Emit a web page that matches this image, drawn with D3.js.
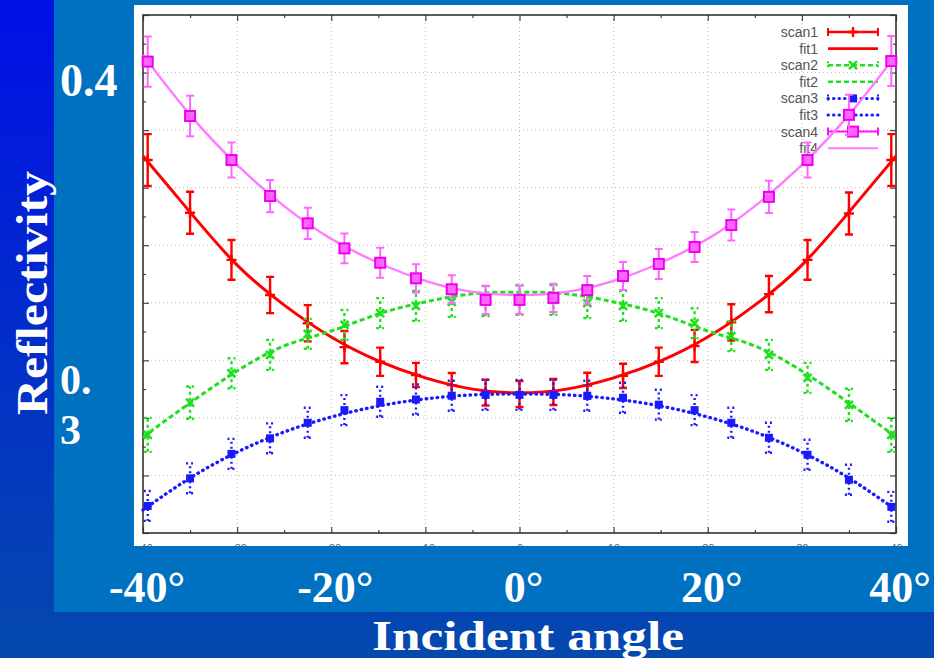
<!DOCTYPE html>
<meta charset="utf-8">
<html>
<head>
<style>
  body { margin: 0; background: #0030c8; }
  svg { display: block; }
</style>
</head>
<body>
<div id="chart"></div>
<script src="https://d3js.org/d3.v7.min.js"></script>
<script>

// measured angles of the scans (degrees)
var angles = [-39.5, -35, -30.6, -26.5, -22.5, -18.6, -14.8, -11, -7.2, -3.6, 0,
              3.6, 7.2, 11, 14.8, 18.6, 22.5, 26.5, 30.6, 35, 39.5];

// scan values and error half-widths
var scan1 = [0.3696, 0.3513, 0.3349, 0.3227, 0.3129, 0.3046, 0.2995, 0.2949, 0.2914, 0.2888, 0.2883,
             0.2890, 0.2912, 0.2946, 0.2995, 0.3050, 0.3132, 0.3230, 0.3349, 0.3510, 0.3696];
var err1  = [0.0090, 0.0073, 0.0069, 0.0063, 0.0063, 0.0056, 0.0049, 0.0042, 0.0042, 0.0045, 0.0045,
             0.0045, 0.0045, 0.0042, 0.0049, 0.0056, 0.0063, 0.0063, 0.0069, 0.0073, 0.0090];
var scan2 = [0.2741, 0.2853, 0.2955, 0.3019, 0.3092, 0.3123, 0.3164, 0.3189, 0.3203, 0.3206, 0.3210,
             0.3210, 0.3199, 0.3189, 0.3164, 0.3129, 0.3084, 0.3019, 0.2939, 0.2845, 0.2741];
var err2  = [0.0059, 0.0056, 0.0052, 0.0052, 0.0052, 0.0052, 0.0052, 0.0052, 0.0052, 0.0052, 0.0052,
             0.0052, 0.0052, 0.0052, 0.0052, 0.0052, 0.0052, 0.0052, 0.0052, 0.0056, 0.0059];
var scan3 = [0.2494, 0.2590, 0.2675, 0.2729, 0.2783, 0.2827, 0.2856, 0.2864, 0.2877, 0.2880, 0.2880,
             0.2880, 0.2877, 0.2870, 0.2846, 0.2827, 0.2783, 0.2731, 0.2672, 0.2585, 0.2491];
var err3  = [0.0052, 0.0052, 0.0052, 0.0052, 0.0052, 0.0052, 0.0052, 0.0052, 0.0052, 0.0052, 0.0052,
             0.0052, 0.0052, 0.0052, 0.0052, 0.0052, 0.0052, 0.0052, 0.0052, 0.0052, 0.0052];
var scan4 = [0.4038, 0.3849, 0.3696, 0.3571, 0.3476, 0.3389, 0.3339, 0.3285, 0.3247, 0.3210, 0.3210,
             0.3217, 0.3244, 0.3293, 0.3335, 0.3394, 0.3470, 0.3568, 0.3696, 0.3853, 0.4040];
var err4  = [0.0087, 0.0070, 0.0061, 0.0056, 0.0054, 0.0052, 0.0052, 0.0049, 0.0049, 0.0049, 0.0049,
             0.0049, 0.0049, 0.0049, 0.0052, 0.0052, 0.0054, 0.0056, 0.0061, 0.0070, 0.0087];

// fitted curves sampled every 5 degrees
var fitAngles = [-40, -35, -30, -25, -20, -15, -10, -5, 0, 5, 10, 15, 20, 25, 30, 35, 40];
var fit1 = [0.3710, 0.3515, 0.3331, 0.3192, 0.3081, 0.2998, 0.2939, 0.2900, 0.2887,
            0.2900, 0.2939, 0.2998, 0.3081, 0.3192, 0.3331, 0.3515, 0.3710];
var fit2 = [0.2734, 0.2852, 0.2963, 0.3050, 0.3102, 0.3161, 0.3203, 0.3231, 0.3237,
            0.3231, 0.3203, 0.3161, 0.3102, 0.3050, 0.2963, 0.2852, 0.2734];
var fit3 = [0.2480, 0.2591, 0.2681, 0.2751, 0.2803, 0.2841, 0.2866, 0.2880, 0.2883,
            0.2880, 0.2866, 0.2841, 0.2803, 0.2751, 0.2681, 0.2591, 0.2480];
var fit4 = [0.4061, 0.3853, 0.3679, 0.3536, 0.3422, 0.3339, 0.3276, 0.3238, 0.3227,
            0.3238, 0.3276, 0.3339, 0.3422, 0.3536, 0.3679, 0.3853, 0.4061];

var legendNames = ["scan1", "fit1", "scan2", "fit2", "scan3", "fit3", "scan4", "fit4"];
var slideXLabels = [-40, -20, 0, 20, 40];

var W = 934, H = 658;

var svg = d3.select("#chart").append("svg")
    .attr("width", W).attr("height", H);

// slide background
var defs = svg.append("defs");
var grad = defs.append("linearGradient").attr("id", "bg")
    .attr("x1", 0).attr("y1", 0).attr("x2", 0).attr("y2", 1);
grad.append("stop").attr("offset", "0%").attr("stop-color", "#0010e6");
grad.append("stop").attr("offset", "100%").attr("stop-color", "#0549ae");
svg.append("rect").attr("width", W).attr("height", H).attr("fill", "url(#bg)");
svg.append("rect").attr("x", 54).attr("y", 0).attr("width", W - 54).attr("height", 612)
    .attr("fill", "#0070c0");

// white picture of the gnuplot output
svg.append("rect").attr("x", 134).attr("y", 5).attr("width", 774).attr("height", 541)
    .attr("fill", "white");
defs.append("clipPath").attr("id", "pic")
  .append("rect").attr("x", 134).attr("y", 5).attr("width", 774).attr("height", 541);

var x = d3.scaleLinear().domain([-40, 40]).range([143, 896]);
var y = d3.scaleLinear().domain([0.24, 0.42]).range([533, 15]);

var plot = svg.append("g").attr("clip-path", "url(#pic)");

// grid
plot.append("g").selectAll("line").data(d3.range(-30, 31, 10)).enter().append("line")
    .attr("x1", function(d) { return x(d); }).attr("x2", function(d) { return x(d); })
    .attr("y1", y(0.42)).attr("y2", y(0.24))
    .attr("stroke", "#bbb").attr("stroke-width", 1).attr("stroke-dasharray", "1,3");
plot.append("g").selectAll("line").data(d3.range(0.26, 0.41, 0.02)).enter().append("line")
    .attr("y1", function(d) { return y(d); }).attr("y2", function(d) { return y(d); })
    .attr("x1", x(-40)).attr("x2", x(40))
    .attr("stroke", "#bbb").attr("stroke-width", 1).attr("stroke-dasharray", "1,3");

// inward ticks, mirrored on all four sides
function ticks(axis, tr, size) {
  var g = plot.append("g").attr("transform", tr).call(axis.tickSize(size).tickFormat(""));
  g.select(".domain").remove();
  g.selectAll("line").attr("stroke", "#444").attr("stroke-width", 1.2);
}
ticks(d3.axisBottom(x).tickValues(d3.range(-40, 41, 10)), "translate(0," + y(0.24) + ")", -6);
ticks(d3.axisBottom(x).tickValues(d3.range(-35, 36, 10)), "translate(0," + y(0.24) + ")", -3);
ticks(d3.axisTop(x).tickValues(d3.range(-40, 41, 10)), "translate(0," + y(0.42) + ")", -6);
ticks(d3.axisTop(x).tickValues(d3.range(-35, 36, 10)), "translate(0," + y(0.42) + ")", -3);
ticks(d3.axisLeft(y).tickValues(d3.range(0.24, 0.421, 0.02)), "translate(" + x(-40) + ",0)", -6);
ticks(d3.axisLeft(y).tickValues(d3.range(0.25, 0.42, 0.02)), "translate(" + x(-40) + ",0)", -3);
ticks(d3.axisRight(y).tickValues(d3.range(0.24, 0.421, 0.02)), "translate(" + x(40) + ",0)", -6);
ticks(d3.axisRight(y).tickValues(d3.range(0.25, 0.42, 0.02)), "translate(" + x(40) + ",0)", -3);

// gnuplot tick labels, cut by the edge of the picture
var lab = plot.append("g").attr("transform", "translate(0," + y(0.24) + ")")
    .call(d3.axisBottom(x).tickValues(d3.range(-40, 41, 10)).tickSize(0).tickPadding(11));
lab.select(".domain").remove();
lab.selectAll("text").attr("fill", "#666").attr("font-size", 11)
    .attr("font-family", "Liberation Sans, Arial, sans-serif");

// frame
plot.append("rect").attr("x", x(-40)).attr("y", y(0.42))
    .attr("width", x(40) - x(-40)).attr("height", y(0.24) - y(0.42))
    .attr("fill", "none").attr("stroke", "#333").attr("stroke-width", 1.6);

var series = [
  { vals: scan1, err: err1, fit: fit1, color: "#ff0000", fitColor: "#ff0000", dash: null, cap: "butt", mark: "plus", w: 2.6 },
  { vals: scan2, err: err2, fit: fit2, color: "#1ee01e", fitColor: "#1ee01e", dash: "5,3", cap: "butt", mark: "cross", w: 2.6 },
  { vals: scan3, err: err3, fit: fit3, color: "#1a1aff", fitColor: "#1a1aff", dash: "0.5,5", cap: "round", mark: "box", w: 3 },
  { vals: scan4, err: err4, fit: fit4, color: "#ff10ff", fitColor: "#ff7cff", dash: null, cap: "butt", mark: "square", w: 2 }
];

function marker(g, kind, cx, cy, color) {
  if (kind === "plus") {
    g.append("path").attr("d", "M" + (cx - 5) + "," + cy + "h10M" + cx + "," + (cy - 5) + "v10")
      .attr("stroke", color).attr("stroke-width", 2.4);
  } else if (kind === "cross") {
    g.append("path").attr("d", "M" + (cx - 4) + "," + (cy - 4) + "l8,8M" + (cx - 4) + "," + (cy + 4) + "l8,-8")
      .attr("stroke", color).attr("stroke-width", 2.6);
  } else if (kind === "box") {
    g.append("rect").attr("x", cx - 4).attr("y", cy - 4).attr("width", 8).attr("height", 8)
      .attr("fill", color);
  } else {
    g.append("rect").attr("x", cx - 5).attr("y", cy - 5).attr("width", 10).attr("height", 10)
      .attr("fill", "#ff66ff").attr("stroke", "#ee00ee").attr("stroke-width", 2);
  }
}

// legend (drawn first, the curves go over it)
var leg = plot.append("g");
legendNames.forEach(function(name, i) {
  var s = series[Math.floor(i / 2)];
  var ly = 32 + i * 16.6;
  leg.append("text").attr("x", 818).attr("y", ly + 5).attr("text-anchor", "end")
    .attr("font-family", "Liberation Sans, Arial, sans-serif").attr("font-size", 14)
    .attr("fill", "#555").text(name);
  var col = (i % 2 === 0) ? s.color : s.fitColor;
  leg.append("line").attr("x1", 828).attr("x2", 878).attr("y1", ly).attr("y2", ly)
    .attr("stroke", col).attr("stroke-width", s.w).attr("stroke-dasharray", s.dash)
    .attr("stroke-linecap", s.cap);
  if (i % 2 === 0) {
    leg.append("path").attr("d", "M828," + (ly - 4) + "v8M878," + (ly - 4) + "v8")
      .attr("stroke", col).attr("stroke-width", 2).attr("stroke-dasharray", s.dash ? "2,2" : null);
    marker(leg, s.mark, 853, ly, s.color);
  }
});

var line = d3.line()
    .x(function(d) { return x(d[0]); })
    .y(function(d) { return y(d[1]); })
    .curve(d3.curveNatural);

series.forEach(function(s) {
  var g = plot.append("g");
  // fit curve
  g.append("path").datum(fitAngles.map(function(a, i) { return [a, s.fit[i]]; }))
    .attr("d", line).attr("fill", "none").attr("stroke", s.fitColor)
    .attr("stroke-width", s.w + 0.4).attr("stroke-dasharray", s.dash)
    .attr("stroke-linecap", s.cap);
  // error bars and markers
  angles.forEach(function(a, i) {
    var cx = x(a), y0 = y(s.vals[i] - s.err[i]), y1 = y(s.vals[i] + s.err[i]);
    var ec = s.mark === "square" ? "#ff66ff" : s.color;
    g.append("path")
      .attr("d", "M" + cx + "," + y0 + "V" + y1 + "M" + (cx - 4) + "," + y0 + "h8M" + (cx - 4) + "," + y1 + "h8")
      .attr("fill", "none").attr("stroke", ec).attr("stroke-width", s.mark === "square" ? 2 : 2.4)
      .attr("stroke-dasharray", s.dash ? (s.mark === "box" ? "2,3" : "3,3") : null);
    marker(g, s.mark, cx, y(s.vals[i]), s.color);
  });
});

// slide text overlay
var serif = "Liberation Serif, Times New Roman, serif";
svg.append("g").selectAll("text").data(slideXLabels).enter().append("text")
    .attr("x", function(d) { return x(d) + 4; }).attr("y", 602)
    .attr("text-anchor", "middle").attr("font-family", serif).attr("font-weight", "bold")
    .attr("font-size", 44).attr("fill", "white")
    .text(function(d) { return d + "°"; });

svg.append("text").attr("x", 528).attr("y", 650).attr("text-anchor", "middle")
    .attr("font-family", serif).attr("font-weight", "bold").attr("font-size", 42)
    .attr("fill", "white").attr("textLength", 312).attr("lengthAdjust", "spacingAndGlyphs")
    .text("Incident angle");

svg.append("text").attr("transform", "translate(47,293) rotate(-90)").attr("text-anchor", "middle")
    .attr("font-family", serif).attr("font-weight", "bold").attr("font-size", 44)
    .attr("fill", "white").attr("textLength", 244).attr("lengthAdjust", "spacingAndGlyphs")
    .text("Reflectivity");

svg.append("text").attr("x", 60).attr("y", y(0.40) + 23)
    .attr("font-family", serif).attr("font-weight", "bold").attr("font-size", 46)
    .attr("fill", "white").text("0.4");

// "0.3" wraps onto two lines on the slide
var t3 = svg.append("text").attr("font-family", serif).attr("font-weight", "bold")
    .attr("font-size", 42).attr("fill", "white");
t3.append("tspan").attr("x", 60).attr("y", y(0.30) + 34).text("0.");
t3.append("tspan").attr("x", 60).attr("y", y(0.30) + 84).text("3");

</script>
</body>
</html>
